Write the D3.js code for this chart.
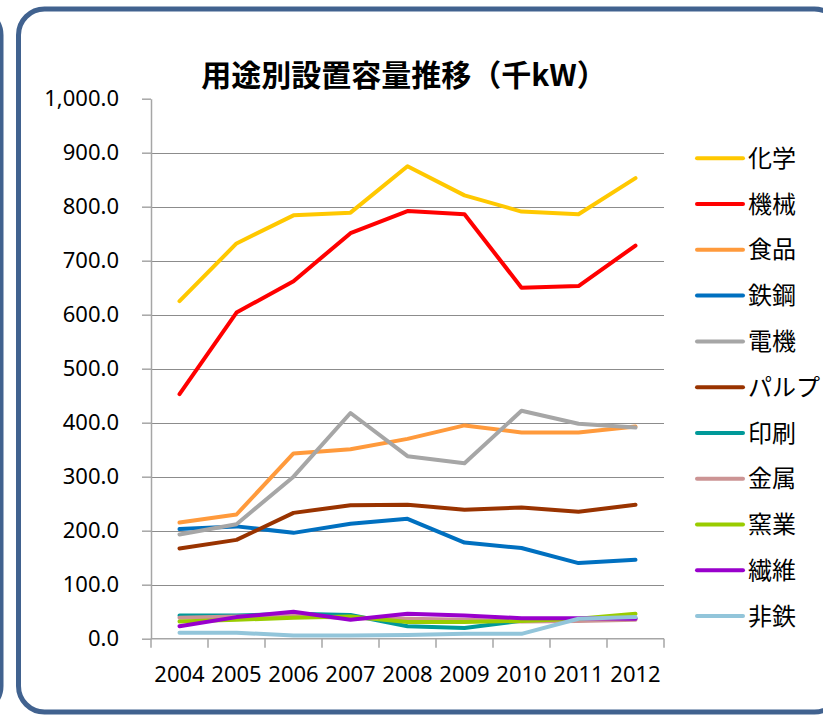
<!DOCTYPE html>
<html>
<head>
<meta charset="utf-8">
<script src="https://cdn.jsdelivr.net/npm/d3@7"></script>
<style>
  body { margin: 0; background: #fff; }
  svg { display: block; }
</style>
</head>
<body>
<script>
// categories and tick labels
var years = ['2004', '2005', '2006', '2007', '2008', '2009', '2010', '2011', '2012'];
var yTicks = [0, 100, 200, 300, 400, 500, 600, 700, 800, 900, 1000];
var gridTicks = [100, 200, 300, 400, 500, 600, 700, 800, 900];

// series values (千kW)
var chemical = [625, 732, 784, 789, 875, 821, 791, 786, 853];
var machinery = [453, 604, 662, 751, 792, 786, 650, 653, 728];
var food = [215, 230, 343, 351, 370, 395, 382, 382, 393];
var steel = [203, 208, 196, 213, 222, 178, 168, 140, 146];
var electric = [193, 212, 300, 418, 338, 325, 422, 398, 391];
var pulp = [167, 183, 233, 247, 248, 239, 243, 235, 248];
var printing = [43, 43, 46, 44, 23, 20, 33, 35, 38];
var metal = [39, 41, 43, 38, 37, 35, 32, 33, 35];
var ceramic = [32, 35, 39, 41, 31, 31, 33, 37, 46];
var textile = [23, 40, 50, 35, 46, 43, 38, 38, 37];
var nonferrous = [11, 11, 6, 6, 7, 9, 9, 37, 40];

var seriesNames = ['化学', '機械', '食品', '鉄鋼', '電機', 'パルプ', '印刷', '金属', '窯業', '繊維', '非鉄'];
var seriesValues = [chemical, machinery, food, steel, electric, pulp, printing, metal, ceramic, textile, nonferrous];
var seriesColors = ['#ffc800', '#ff0000', '#ff9a3c', '#0070c0', '#a6a6a6', '#993300',
                    '#009999', '#cc9494', '#99cc00', '#9900cc', '#92c5da'];

var W = 823, H = 717;
var border = '#41628f';
var labelFont = '"Noto Sans", "DejaVu Sans", sans-serif';
var cjkFont = '"Noto Sans CJK JP", sans-serif';

var svg = d3.select('body').append('svg')
  .attr('width', W)
  .attr('height', H);

// frame of the neighbouring panel (only its right edge shows)
svg.append('rect')
  .attr('x', -800).attr('y', 9)
  .attr('width', 801).attr('height', 703)
  .attr('rx', 26).attr('ry', 26)
  .attr('fill', 'none')
  .attr('stroke', border)
  .attr('stroke-width', 5);

// chart frame
svg.append('rect')
  .attr('x', 18.5).attr('y', 9)
  .attr('width', 822).attr('height', 703)
  .attr('rx', 26).attr('ry', 26)
  .attr('fill', '#fff')
  .attr('stroke', border)
  .attr('stroke-width', 5);

var x = d3.scaleBand().domain(years).range([151, 664]);
var y = d3.scaleLinear().domain([0, 1000]).range([638.7, 98.7]);
var cx = function (d) { return x(d) + x.bandwidth() / 2; };

// gridlines
svg.append('g')
  .selectAll('line')
  .data(gridTicks)
  .enter().append('line')
    .attr('x1', x.range()[0]).attr('x2', x.range()[1])
    .attr('y1', function (d) { return Math.round(y(d)) + 0.5; })
    .attr('y2', function (d) { return Math.round(y(d)) + 0.5; })
    .attr('stroke', '#8c8c8c')
    .attr('stroke-width', 1);

// y axis
var yAxis = svg.append('g')
  .attr('transform', 'translate(151,0)')
  .call(d3.axisLeft(y)
    .tickValues(yTicks)
    .tickFormat(d3.format(',.1f'))
    .tickSize(9)
    .tickPadding(23)
    .tickSizeOuter(0));
yAxis.selectAll('path, line').attr('stroke', '#a6a6a6').attr('stroke-width', 1.5);
yAxis.selectAll('text')
  .attr('fill', '#000')
  .style('font-family', labelFont)
  .style('font-size', '22px');

// x axis: ticks on the band edges, labels in the middle
var xAxis = svg.append('g');
xAxis.append('line')
  .attr('x1', x.range()[0]).attr('x2', x.range()[1])
  .attr('y1', y(0)).attr('y2', y(0))
  .attr('stroke', '#a6a6a6')
  .attr('stroke-width', 1.5);
xAxis.selectAll('.tick')
  .data(years.map(function (d) { return x(d); }).concat([x.range()[1]]))
  .enter().append('line')
    .attr('x1', function (d) { return d; })
    .attr('x2', function (d) { return d; })
    .attr('y1', y(0)).attr('y2', y(0) + 9)
    .attr('stroke', '#a6a6a6')
    .attr('stroke-width', 1.5);
xAxis.selectAll('text')
  .data(years)
  .enter().append('text')
    .attr('x', cx)
    .attr('y', 682)
    .attr('text-anchor', 'middle')
    .attr('fill', '#000')
    .style('font-family', labelFont)
    .style('font-size', '22px')
    .text(function (d) { return d; });

// series lines, legend order = drawing order
var line = d3.line()
  .x(function (d, i) { return cx(years[i]); })
  .y(function (d) { return y(d); });

svg.append('g')
  .selectAll('path')
  .data(seriesValues)
  .enter().append('path')
    .attr('d', line)
    .attr('fill', 'none')
    .attr('stroke', function (d, i) { return seriesColors[i]; })
    .attr('stroke-width', 4)
    .attr('stroke-linejoin', 'round')
    .attr('stroke-linecap', 'round');

// legend
var legend = svg.append('g')
  .selectAll('g')
  .data(seriesNames)
  .enter().append('g')
    .attr('transform', function (d, i) { return 'translate(0,' + (158.3 + i * 45.77) + ')'; });
legend.append('line')
  .attr('x1', 697).attr('x2', 743)
  .attr('stroke', function (d, i) { return seriesColors[i]; })
  .attr('stroke-width', 4)
  .attr('stroke-linecap', 'round');
legend.append('text')
  .attr('x', 748)
  .attr('dy', '0.36em')
  .attr('fill', '#000')
  .style('font-family', cjkFont)
  .style('font-size', '24px')
  .text(function (d) { return d; });

// title
svg.append('text')
  .attr('x', 404)
  .attr('y', 86)
  .attr('text-anchor', 'middle')
  .attr('fill', '#000')
  .style('font-family', cjkFont)
  .style('font-weight', 'bold')
  .style('font-size', '30px')
  .text('用途別設置容量推移（千kW）');
</script>
</body>
</html>
